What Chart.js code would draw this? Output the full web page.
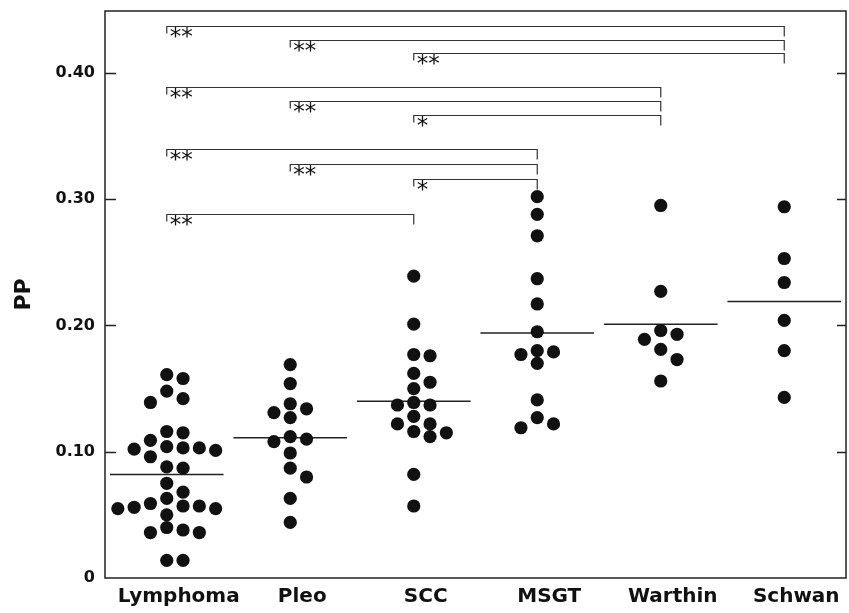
<!DOCTYPE html>
<html>
<head>
<meta charset="utf-8">
<script src="https://cdn.jsdelivr.net/npm/chart.js@4/dist/chart.umd.min.js"></script>
<style>
  html, body { margin: 0; padding: 0; background: #fff; }
</style>
</head>
<body>
<canvas id="dotChart" width="849" height="613"></canvas>
<script>
// группы и значения PP
const categories = ['Lymphoma', 'Pleo', 'SCC', 'MSGT', 'Warthin', 'Schwan'];

const lymphoma = [0.161, 0.158, 0.148, 0.142, 0.139, 0.116, 0.115, 0.109, 0.101, 0.103, 0.102,
                  0.104, 0.096, 0.103, 0.088, 0.087, 0.075, 0.068, 0.063, 0.057, 0.050, 0.056,
                  0.055, 0.055, 0.057, 0.059, 0.038, 0.036, 0.036, 0.040, 0.014, 0.014];
const pleo     = [0.169, 0.154, 0.138, 0.131, 0.127, 0.134, 0.110, 0.108, 0.112, 0.099, 0.087,
                  0.080, 0.063, 0.044];
const scc      = [0.239, 0.201, 0.176, 0.177, 0.162, 0.155, 0.150, 0.139, 0.137, 0.137, 0.128,
                  0.122, 0.115, 0.112, 0.116, 0.122, 0.082, 0.057];
const msgt     = [0.302, 0.288, 0.271, 0.237, 0.217, 0.195, 0.180, 0.177, 0.170, 0.179, 0.141,
                  0.122, 0.119, 0.127];
const warthin  = [0.295, 0.227, 0.196, 0.193, 0.189, 0.181, 0.173, 0.156];
const schwan   = [0.294, 0.253, 0.234, 0.204, 0.180, 0.143];

const groups = [lymphoma, pleo, scc, msgt, warthin, schwan];
const means  = [0.082, 0.111, 0.140, 0.194, 0.201, 0.219];

const yTickValues = [0, 0.1, 0.2, 0.3, 0.4];
const yTickLabels = ['0', '0.10', '0.20', '0.30', '0.40'];

// скобки значимости: от группы, до группы, уровень, звёздочки
const bracketFrom  = [0, 1, 2, 0, 1, 2, 0, 1, 2, 0];
const bracketTo    = [5, 5, 5, 4, 4, 4, 3, 3, 3, 2];
const bracketLevel = [0.4375, 0.426, 0.4156, 0.3887, 0.3778, 0.3667, 0.3398, 0.3277, 0.316, 0.2883];
const bracketStars = ['**', '**', '**', '**', '**', '*', '**', '**', '*', '**'];

// простая раскладка "рой": точки с близкими значениями разводятся по колонкам
const PX_PER_Y = 1262;   // пикселей на единицу PP (примерно)
const PX_PER_X = 123.5;  // пикселей на категорию
const SLOT_PX = 16.3;
function swarm(values) {
    const order = values.map((v, i) => i).sort((a, b) => values[b] - values[a]);
    const placed = [];
    const slots = new Array(values.length).fill(0);
    const tries = [0, 1, -1, 2, -2, 3, -3, 4, -4];
    order.forEach(i => {
        for (const s of tries) {
            const clash = placed.some(p => p.s === s && Math.abs(values[p.i] - values[i]) * PX_PER_Y < 12);
            if (!clash) { slots[i] = s; placed.push({ i, s }); break; }
        }
    });
    return slots.map(s => s * SLOT_PX / PX_PER_X);
}

const pointSets = groups.map((vals, gi) => {
    const offs = swarm(vals);
    return {
        type: 'scatter',
        data: vals.map((v, k) => ({ x: gi + offs[k], y: v })),
        backgroundColor: '#111',
        borderWidth: 0,
        pointRadius: 6.6,
        pointHoverRadius: 6.6
    };
});

const meanSets = means.map((m, gi) => ({
    type: 'line',
    data: [{ x: gi - 0.46, y: m }, { x: gi + 0.46, y: m }],
    borderColor: '#222',
    borderWidth: 1.5,
    pointRadius: 0,
    fill: false
}));

const frameAndBrackets = {
    id: 'frameAndBrackets',
    afterDatasetsDraw(chart) {
        const { ctx, chartArea: a, scales: { x, y } } = chart;
        ctx.save();
        ctx.strokeStyle = '#222';
        ctx.lineWidth = 1.5;
        ctx.strokeRect(a.left, a.top, a.right - a.left, a.bottom - a.top);

        // засечки внутрь слева и справа
        yTickValues.slice(1).forEach(v => {
            const py = Math.round(y.getPixelForValue(v)) + 0.5;
            ctx.beginPath();
            ctx.moveTo(a.left, py); ctx.lineTo(a.left + 11, py);
            ctx.moveTo(a.right - 9, py); ctx.lineTo(a.right, py);
            ctx.stroke();
        });

        ctx.strokeStyle = '#333';
        ctx.lineWidth = 1.2;
        ctx.fillStyle = '#111';
        ctx.font = '23px "DejaVu Sans"';
        ctx.textBaseline = 'top';
        bracketLevel.forEach((lvl, i) => {
            const xl = x.getPixelForValue(bracketFrom[i]);
            const xr = x.getPixelForValue(bracketTo[i]);
            const py = Math.round(y.getPixelForValue(lvl)) + 0.5;
            ctx.beginPath();
            ctx.moveTo(xl, py + 7); ctx.lineTo(xl, py);
            ctx.lineTo(xr, py); ctx.lineTo(xr, py + 10);
            ctx.stroke();
            ctx.fillText(bracketStars[i], xl + 3, py);
        });
        ctx.restore();
    }
};

new Chart(document.getElementById('dotChart'), {
    data: { datasets: [...pointSets, ...meanSets] },
    options: {
        responsive: false,
        animation: false,
        layout: { autoPadding: false, padding: { top: 11, right: 3, left: 0, bottom: 0 } },
        plugins: { legend: { display: false }, tooltip: { enabled: false } },
        scales: {
            x: {
                type: 'linear',
                min: -0.5,
                max: 5.5,
                afterBuildTicks: axis => { axis.ticks = categories.map((c, i) => ({ value: i })); },
                afterFit: axis => { axis.height = 35; axis.paddingLeft = 0; axis.paddingRight = 0; },
                grid: { display: false, drawTicks: false },
                border: { display: false },
                ticks: {
                    callback: v => categories[v],
                    color: '#111',
                    font: { family: '"DejaVu Sans"', size: 20, weight: 'bold' },
                    padding: 7,
                    labelOffset: 12,
                    maxRotation: 0,
                    autoSkip: false
                }
            },
            y: {
                min: 0,
                max: 0.449,
                afterBuildTicks: axis => { axis.ticks = yTickValues.map(v => ({ value: v })); },
                afterFit: axis => { axis.width = 105; axis.paddingTop = 0; axis.paddingBottom = 0; },
                grid: { display: false, drawTicks: false },
                border: { display: false },
                ticks: {
                    callback: (v, i) => yTickLabels[i],
                    color: '#111',
                    font: { family: '"DejaVu Sans"', size: 16, weight: 'bold' },
                    padding: 10
                },
                title: {
                    display: true,
                    text: 'PP',
                    color: '#111',
                    font: { family: '"DejaVu Sans"', size: 22, weight: 'bold' },
                    padding: { top: 11, bottom: 0 }
                }
            }
        }
    },
    plugins: [frameAndBrackets]
});
</script>
</body>
</html>
